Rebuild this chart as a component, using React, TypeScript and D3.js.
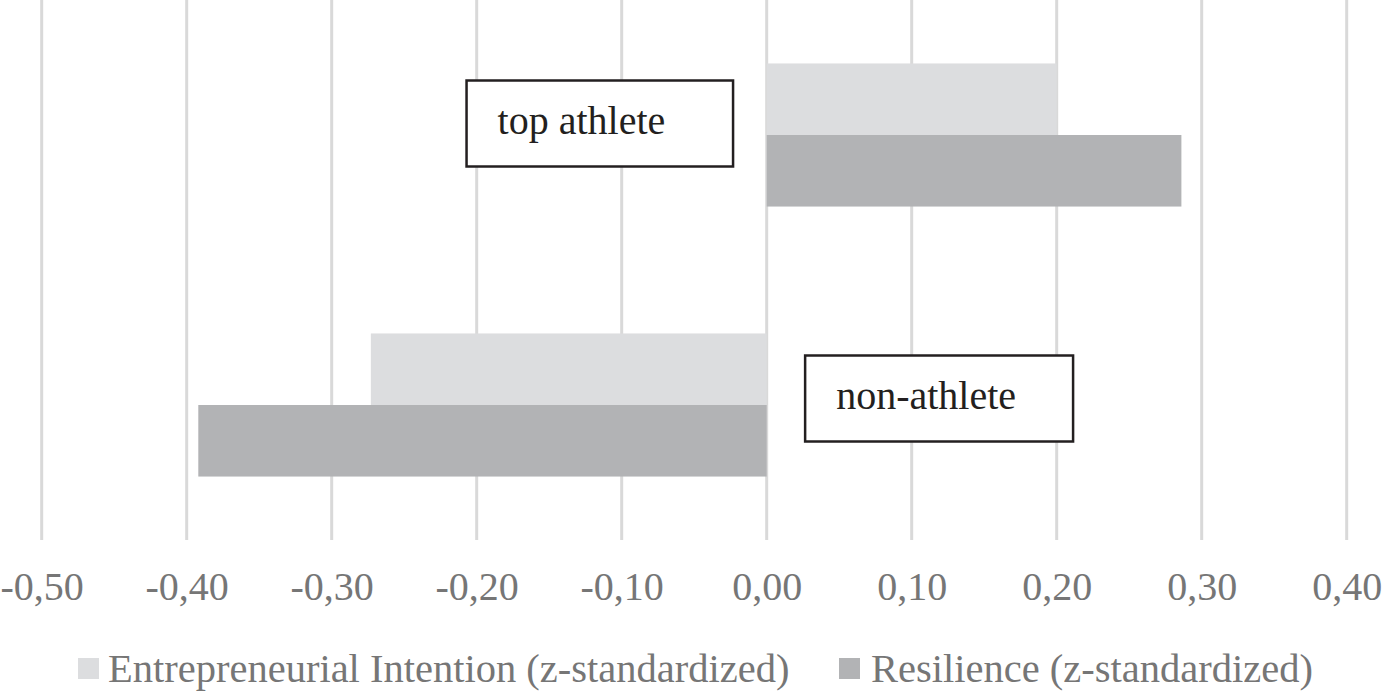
import React, { useRef, useEffect } from "react";
import * as d3 from "d3";

// categories top to bottom, and the two series
const groups = ["top athlete", "non-athlete"];
const seriesNames = [
    "Entrepreneurial Intention (z-standardized)",
    "Resilience (z-standardized)",
];
const intentionValues = [0.2, -0.273];
const resilienceValues = [0.286, -0.392];
const xTicks = [-0.5, -0.4, -0.3, -0.2, -0.1, 0, 0.1, 0.2, 0.3, 0.4];

// annotation boxes: label, left/right edge in x units, shift from band centre
const labelBoxes = [
    { label: "top athlete", x0: -0.207, x1: -0.0232, shift: -11.5 },
    { label: "non-athlete", x0: 0.0265, x1: 0.2113, shift: -6.5 },
];

const seriesColors = ["#dcdddf", "#b2b3b5"];

export default function App() {
    const svgRef = useRef(null);

    useEffect(() => {
        const width = 1382;
        const height = 694;
        const font = "'Liberation Serif', 'Times New Roman', serif";

        const x = d3.scaleLinear().domain([-0.5, 0.4]).range([41.7, 1346.7]);

        const y = d3.scaleBand<string>()
            .domain(groups)
            .range([0, 540])
            .paddingInner(0.47)
            .paddingOuter(0.235);

        const ySub = d3.scaleBand<number>()
            .domain([0, 1])
            .range([0, y.bandwidth()]);

        const svg = d3.select(svgRef.current)
            .attr("width", width)
            .attr("height", height);

        svg.selectAll("*").remove();
        svg.append("rect").attr("width", width).attr("height", height).attr("fill", "#fff");

        // grid
        svg.append("g")
            .selectAll("line")
            .data(xTicks)
            .join("line")
            .attr("x1", (d) => x(d))
            .attr("x2", (d) => x(d))
            .attr("y1", 0)
            .attr("y2", 540)
            .attr("stroke", "#d9d9d9")
            .attr("stroke-width", 3);

        // bars
        const rows = groups.map((g, i) => ({ group: g, values: [intentionValues[i], resilienceValues[i]] }));
        const rowG = svg.append("g")
            .selectAll("g")
            .data(rows)
            .join("g")
            .attr("transform", (d) => `translate(0,${y(d.group)})`);

        rowG.selectAll("rect")
            .data((d) => d.values.map((v, j) => ({ v, j })))
            .join("rect")
            .attr("x", (d) => x(Math.min(0, d.v)))
            .attr("width", (d) => Math.abs(x(d.v) - x(0)))
            .attr("y", (d) => ySub(d.j) as number)
            .attr("height", ySub.bandwidth())
            .attr("fill", (d) => seriesColors[d.j]);

        // x axis labels
        svg.append("g")
            .attr("transform", "translate(0,600)")
            .call(d3.axisBottom(x).tickValues(xTicks).tickSize(0).tickPadding(0)
                .tickFormat((d) => d3.format(".2f")(d as number).replace(".", ",").replace("−", "-")))
            .call((g) => g.select(".domain").remove())
            .selectAll("text")
            .attr("dy", 0)
            .attr("y", 0)
            .style("font-family", font)
            .style("font-size", "40px")
            .style("fill", "#767676");

        // annotation boxes
        labelBoxes.forEach((b, i) => {
            const cy = (y(groups[i]) as number) + y.bandwidth() / 2 + b.shift;
            const g = svg.append("g");
            g.append("rect")
                .attr("x", x(b.x0))
                .attr("y", cy - 43)
                .attr("width", x(b.x1) - x(b.x0))
                .attr("height", 86)
                .attr("fill", "#fff")
                .attr("stroke", "#231f20")
                .attr("stroke-width", 2.5);
            g.append("text")
                .attr("x", x(b.x0) + 31)
                .attr("y", cy + 10)
                .style("font-family", font)
                .style("font-size", "40px")
                .style("fill", "#231f20")
                .text(b.label);
        });

        // legend
        const legendX = [78, 839];
        const legend = svg.append("g")
            .selectAll("g")
            .data(seriesNames)
            .join("g")
            .attr("transform", (_d, i) => `translate(${legendX[i]},658)`);
        legend.append("rect")
            .attr("width", 21)
            .attr("height", 21)
            .attr("fill", (_d, i) => seriesColors[i]);
        legend.append("text")
            .attr("x", (_d, i) => (i === 0 ? 30 : 32))
            .attr("y", 24)
            .style("font-family", font)
            .style("font-size", "40.5px")
            .style("fill", "#767676")
            .text((d) => d);
    }, []);

    return (
        <svg ref={svgRef} style={{ position: "absolute", left: 0, top: 0, display: "block" }}></svg>
    );
}
